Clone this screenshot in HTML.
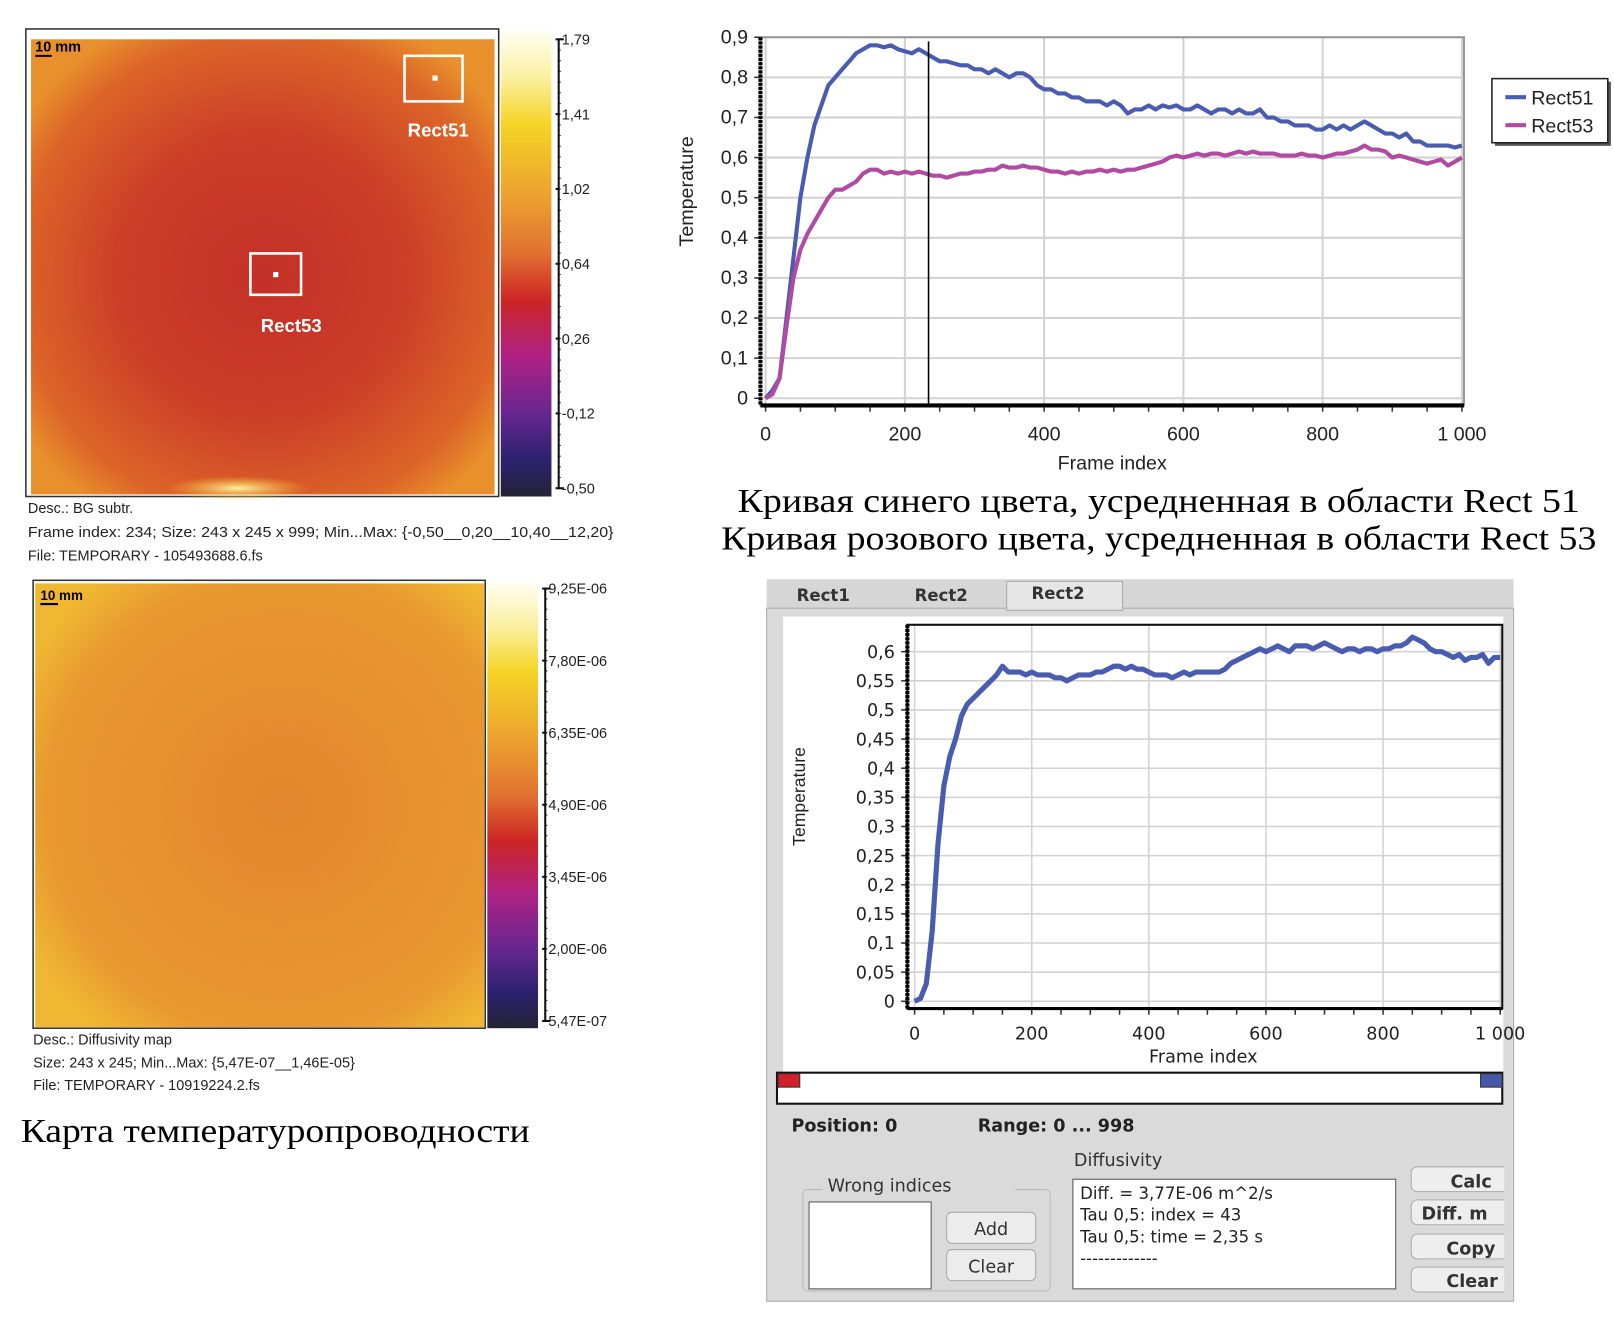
<!DOCTYPE html>
<html><head><meta charset="utf-8">
<style>
html,body{margin:0;padding:0;background:#fff;width:1614px;height:1323px;overflow:hidden}
svg{display:block}
.n{font-family:"Liberation Sans",sans-serif}
.v{font-family:"DejaVu Sans","Liberation Sans",sans-serif}
.s{font-family:"Liberation Serif","Noto Serif CJK SC",serif}
</style></head>
<body>
<svg id="root" width="1614" height="1323" viewBox="0 0 1560 1279" preserveAspectRatio="none" xmlns="http://www.w3.org/2000/svg">
<defs>
<linearGradient id="cbar" x1="0" y1="0" x2="0" y2="1">
<stop offset="0" stop-color="#fffef2"/><stop offset="0.1" stop-color="#fbf0a0"/>
<stop offset="0.2" stop-color="#f5d425"/><stop offset="0.36" stop-color="#eca030"/>
<stop offset="0.48" stop-color="#e07030"/><stop offset="0.58" stop-color="#cc2424"/>
<stop offset="0.7" stop-color="#ae2284"/><stop offset="0.82" stop-color="#682690"/>
<stop offset="0.92" stop-color="#2c2270"/><stop offset="1" stop-color="#232334"/>
</linearGradient>
<radialGradient id="h1" cx="0.5" cy="0.52" r="0.62">
<stop offset="0" stop-color="#c43028"/><stop offset="0.5" stop-color="#cc3e28"/>
<stop offset="0.85" stop-color="#dc6428"/><stop offset="1" stop-color="#e8902c"/>
</radialGradient>
<radialGradient id="h2" cx="0.55" cy="0.5" r="0.65">
<stop offset="0" stop-color="#e3862e"/><stop offset="0.8" stop-color="#e89830"/>
<stop offset="1" stop-color="#f0b832"/>
</radialGradient>
<radialGradient id="blob" cx="0.5" cy="0.5" r="0.5">
<stop offset="0" stop-color="#fff0a0"/><stop offset="1" stop-color="#f5c030" stop-opacity="0"/>
</radialGradient>
<clipPath id="clipTop"><rect x="735" y="30" width="682" height="364"/></clipPath>
<clipPath id="clipBot"><rect x="877" y="604" width="575" height="372"/></clipPath>
</defs>

<!-- Heatmap 1 -->
<g>
<rect x="25" y="28" width="457" height="452" fill="#fff" stroke="#333" stroke-width="1.5"/>
<rect x="30" y="38" width="448" height="440" fill="url(#h1)"/>
<ellipse cx="230" cy="472" rx="70" ry="12" fill="url(#blob)"/>
<line x1="34" y1="54" x2="50" y2="54" stroke="#000" stroke-width="2"/>
<text x="34" y="50" class="n" font-size="14" font-weight="bold">10 mm</text>
<g fill="none" stroke="#fff" stroke-width="2.5">
<rect x="391" y="54" width="56" height="44"/></g>
<rect x="418" y="73" width="5" height="5" fill="#fff"/>
<text x="394" y="132" class="n" font-size="18" font-weight="bold" fill="#fff">Rect51</text>
<g fill="none" stroke="#fff" stroke-width="2.5">
<rect x="242" y="245" width="49" height="40"/></g>
<rect x="264" y="263" width="5" height="5" fill="#fff"/>
<text x="252" y="321" class="n" font-size="18" font-weight="bold" fill="#fff">Rect53</text>
</g>
<rect x="484" y="30" width="49" height="450" fill="url(#cbar)"/>
<g id="cb1"></g>
<g class="n" font-size="14" fill="#222">
<text x="27" y="496">Desc.:  BG subtr.</text>
<text x="27" y="519" textLength="566" lengthAdjust="spacingAndGlyphs">Frame index:  234; Size:  243 x 245 x 999; Min...Max:  {-0,50__0,20__10,40__12,20}</text>
<text x="27" y="542">File: TEMPORARY - 105493688.6.fs</text>
</g>

<!-- Heatmap 2 -->
<g>
<rect x="32" y="561" width="437" height="433" fill="#fff" stroke="#333" stroke-width="1.5"/>
<rect x="34" y="564" width="434" height="429" fill="url(#h2)"/>
<line x1="39" y1="584" x2="56" y2="584" stroke="#000" stroke-width="2"/>
<text x="39" y="580" class="n" font-size="13" font-weight="bold">10 mm</text>
</g>
<rect x="471" y="563" width="49" height="431" fill="url(#cbar)"/>
<g id="cb2"></g>
<g class="n" font-size="14" fill="#222">
<text x="32" y="1010">Desc.:  Diffusivity map</text>
<text x="32" y="1032">Size:  243 x 245; Min...Max:  {5,47E-07__1,46E-05}</text>
<text x="32" y="1054">File: TEMPORARY - 10919224.2.fs</text>
</g>
<text x="20" y="1104" class="s" font-size="33" textLength="492" lengthAdjust="spacingAndGlyphs">Карта температуропроводности</text>

<!-- Top chart -->
<g id="top"></g>
<text x="713" y="495" class="s" font-size="33" textLength="814" lengthAdjust="spacingAndGlyphs">Кривая синего цвета, усредненная в области Rect 51</text>
<text x="697" y="531" class="s" font-size="33" textLength="846" lengthAdjust="spacingAndGlyphs">Кривая розового цвета, усредненная в области Rect 53</text>

<!-- Bottom panel -->
<g>
<rect x="741" y="560" width="722" height="698" fill="#d6d6d6"/>
<rect x="741" y="588" width="722" height="670" fill="#dadada" stroke="#aaa"/>
<rect x="973" y="562" width="112" height="28" fill="#e6e6e6" stroke="#aaa"/>
<text x="770" y="581" class="v" font-size="16" font-weight="bold" fill="#333">Rect1</text>
<text x="884" y="581" class="v" font-size="16" font-weight="bold" fill="#333">Rect2</text>
<text x="997" y="579" class="v" font-size="16" font-weight="bold" fill="#333">Rect2</text>
<rect x="757" y="596" width="696" height="440" fill="#fff"/>
</g>
<g id="bot"></g>
<g>
<rect x="751" y="1037" width="701" height="30" fill="#fff" stroke="#111" stroke-width="2"/>
<rect x="752" y="1038" width="21" height="13" fill="#d0202a" stroke="#333"/>
<rect x="1431" y="1038" width="21" height="13" fill="#4858a8" stroke="#333"/>
</g>
<g class="v" font-size="17" font-weight="bold" fill="#222">
<text x="765" y="1094">Position: 0</text>
<text x="945" y="1094">Range: 0 ... 998</text>
<text x="1038" y="1127" font-size="17" font-weight="normal" fill="#333">Diffusivity</text>
</g>
<g>
<rect x="776" y="1150" width="239" height="98" rx="4" fill="none" stroke="#bbb"/>
<rect x="795" y="1138" width="186" height="18" fill="#dadada"/>
<text x="800" y="1152" class="v" font-size="17" fill="#333">Wrong indices</text>
<rect x="782" y="1162" width="118" height="84" fill="#fff" stroke="#555"/>
<rect x="915" y="1172" width="86" height="30" rx="5" fill="#ececec" stroke="#aaa"/>
<text x="958" y="1194" text-anchor="middle" class="v" font-size="17" fill="#333">Add</text>
<rect x="915" y="1208" width="86" height="30" rx="5" fill="#ececec" stroke="#aaa"/>
<text x="958" y="1230" text-anchor="middle" class="v" font-size="17" fill="#333">Clear</text>
</g>
<g>
<rect x="1037" y="1140" width="312" height="106" fill="#fff" stroke="#555"/>
<g class="v" font-size="16" fill="#222">
<text x="1044" y="1159">Diff. = 3,77E-06 m^2/s</text>
<text x="1044" y="1180">Tau 0,5: index = 43</text>
<text x="1044" y="1201">Tau 0,5: time = 2,35 s</text>
<text x="1044" y="1222">-------------</text>
</g></g>
<svg x="1362" y="1120" width="92" height="140">
<g class="v" font-size="17" font-weight="bold" fill="#333">
<rect x="2" y="8" width="110" height="24" rx="6" fill="#eee" stroke="#aaa"/>
<text x="40" y="28">Calc</text>
<rect x="2" y="40" width="110" height="24" rx="6" fill="#eee" stroke="#aaa"/>
<text x="12" y="59">Diff. m</text>
<rect x="2" y="73" width="110" height="24" rx="6" fill="#eee" stroke="#aaa"/>
<text x="36" y="93">Copy</text>
<rect x="2" y="105" width="110" height="24" rx="6" fill="#eee" stroke="#aaa"/>
<text x="36" y="124">Clear</text>
</g></svg>
</svg>

<script>
// ---- data ----
const frames = [0,10,20,30,40,50,60,70,80,90,100,110,120,130,140,150,160,170,180,190,200,210,220,230,240,250,260,270,280,290,300,310,320,330,340,350,360,370,380,390,400,410,420,430,440,450,460,470,480,490,500,510,520,530,540,550,560,570,580,590,600,610,620,630,640,650,660,670,680,690,700,710,720,730,740,750,760,770,780,790,800,810,820,830,840,850,860,870,880,890,900,910,920,930,940,950,960,970,980,990,1000];
const rect51 = [0,0.02,0.05,0.2,0.35,0.5,0.6,0.68,0.73,0.78,0.8,0.82,0.84,0.86,0.87,0.88,0.88,0.875,0.88,0.87,0.865,0.86,0.87,0.86,0.85,0.84,0.84,0.835,0.83,0.83,0.82,0.82,0.81,0.82,0.81,0.8,0.81,0.81,0.8,0.78,0.77,0.77,0.76,0.76,0.75,0.75,0.74,0.74,0.74,0.73,0.74,0.73,0.71,0.72,0.72,0.73,0.72,0.73,0.725,0.73,0.72,0.72,0.73,0.72,0.71,0.72,0.72,0.71,0.72,0.71,0.71,0.72,0.7,0.7,0.69,0.69,0.68,0.68,0.68,0.67,0.67,0.68,0.67,0.68,0.67,0.68,0.69,0.68,0.67,0.66,0.66,0.65,0.66,0.64,0.64,0.63,0.63,0.63,0.63,0.625,0.63];
const rect53 = [0,0.01,0.05,0.18,0.3,0.37,0.41,0.44,0.47,0.5,0.52,0.52,0.53,0.54,0.56,0.57,0.57,0.56,0.565,0.56,0.565,0.56,0.565,0.56,0.555,0.555,0.55,0.555,0.56,0.56,0.565,0.565,0.57,0.57,0.58,0.575,0.575,0.58,0.575,0.575,0.57,0.565,0.565,0.56,0.565,0.56,0.565,0.565,0.57,0.565,0.57,0.565,0.57,0.57,0.575,0.58,0.585,0.59,0.6,0.605,0.6,0.605,0.61,0.605,0.61,0.61,0.605,0.61,0.615,0.61,0.615,0.61,0.61,0.61,0.605,0.605,0.605,0.61,0.605,0.605,0.6,0.605,0.61,0.61,0.615,0.62,0.63,0.62,0.62,0.615,0.6,0.605,0.6,0.595,0.59,0.585,0.59,0.595,0.58,0.59,0.6];
const rect2 = [0,0.005,0.03,0.12,0.27,0.37,0.42,0.45,0.49,0.51,0.52,0.53,0.54,0.55,0.56,0.575,0.565,0.565,0.565,0.56,0.565,0.56,0.56,0.56,0.555,0.555,0.55,0.555,0.56,0.56,0.56,0.565,0.565,0.57,0.575,0.575,0.57,0.575,0.57,0.57,0.565,0.56,0.56,0.56,0.555,0.56,0.565,0.56,0.565,0.565,0.565,0.565,0.565,0.57,0.58,0.585,0.59,0.595,0.6,0.605,0.6,0.605,0.61,0.605,0.6,0.61,0.61,0.61,0.605,0.61,0.615,0.61,0.605,0.6,0.605,0.605,0.6,0.605,0.605,0.6,0.605,0.605,0.61,0.61,0.615,0.625,0.62,0.615,0.605,0.6,0.6,0.595,0.59,0.595,0.585,0.59,0.59,0.595,0.58,0.59,0.59];
const topYTicks = ["0","0,1","0,2","0,3","0,4","0,5","0,6","0,7","0,8","0,9"];
const topXTicks = ["0","200","400","600","800","1 000"];
const botYTicks = ["0","0,05","0,1","0,15","0,2","0,25","0,3","0,35","0,4","0,45","0,5","0,55","0,6"];
const botXTicks = ["0","200","400","600","800","1 000"];
const cb1Labels = ["1,79","1,41","1,02","0,64","0,26","-0,12","-0,50"];
const cb2Labels = ["9,25E-06","7,80E-06","6,35E-06","4,90E-06","3,45E-06","2,00E-06","5,47E-07"];
const cursorFrame = 234;

const NS="http://www.w3.org/2000/svg";
function mk(parent,tag,attrs,txt){const e=document.createElementNS(NS,tag);for(const k in attrs)e.setAttribute(k,attrs[k]);if(txt!==undefined)e.textContent=txt;parent.appendChild(e);return e;}

function colorbar(id,x,y0,y1,labels){
  const g=document.getElementById(id);
  mk(g,'line',{x1:x,y1:y0,x2:x,y2:y1,stroke:'#111','stroke-width':2});
  mk(g,'line',{x1:x,y1:y0,x2:x+5,y2:y0,stroke:'#111','stroke-width':2});
  mk(g,'line',{x1:x,y1:y1,x2:x+5,y2:y1,stroke:'#111','stroke-width':2});
  for(let i=0;i<=labels.length*6;i++){const yy=y0+(y1-y0)*i/(labels.length*6);mk(g,'line',{x1:x,y1:yy,x2:x+2,y2:yy,stroke:'#111'});}
  labels.forEach((l,i)=>{const yy=y0+(y1-y0)*i/(labels.length-1);
    mk(g,'line',{x1:x-3,y1:yy,x2:x+1,y2:yy,stroke:'#111','stroke-width':2});
    const t=mk(g,'text',{x:x+3,y:yy+5,'font-size':14,class:'n',fill:'#222'},l);
    
    
  });
}
colorbar('cb1',540,38,472,cb1Labels);
colorbar('cb2',527,569,987,cb2Labels);

function chart(gid,o){
  const g=document.getElementById(gid);
  const xs=v=>o.x0+(o.x1-o.x0)*v/1000;
  const ys=v=>o.y0-(o.y0-o.y1)*v/o.ymax;
  mk(g,'rect',{x:o.fx0,y:o.fy0,width:o.fx1-o.fx0,height:o.fy1-o.fy0,fill:'#fff'});
  o.yt.forEach((l,i)=>{const v=i*o.ystep,yy=ys(v);
    const gl=mk(g,'line',{x1:o.fx0,y1:yy,x2:o.fx1,y2:yy,stroke:'#d2d2d2','stroke-width':o.gw});
    
    
    mk(g,'line',{x1:o.fx0-6,y1:yy,x2:o.fx0,y2:yy,stroke:'#333','stroke-width':1.5});
    const t=mk(g,'text',{x:o.fx0-o.lgap,y:yy+6,'text-anchor':'end','font-size':o.fs,class:o.fc,fill:'#222'},l);
    
    
  });
  o.xt.forEach((l,i)=>{const xx=xs(i*200);
    const gl=mk(g,'line',{x1:xx,y1:o.fy0,x2:xx,y2:o.fy1,stroke:'#d2d2d2','stroke-width':o.gw});
    
    
    const t=mk(g,'text',{x:xx,y:o.fy1+o.xgap,'text-anchor':'middle','font-size':o.fs,class:o.fc,fill:'#222'},l);
    
    
  });
  for(let f=0;f<=1000;f+=50){const xx=xs(f);mk(g,'line',{x1:xx,y1:o.fy1,x2:xx,y2:o.fy1+6,stroke:'#333','stroke-width':1.5});}
  mk(g,'rect',{x:o.fx0,y:o.fy0,width:o.fx1-o.fx0,height:o.fy1-o.fy0,fill:'none',stroke:o.frame,'stroke-width':2});
  mk(g,'line',{x1:o.fx0,y1:o.fy0,x2:o.fx0,y2:o.fy1,stroke:'#000','stroke-width':4,'stroke-dasharray':'3 1'});
  mk(g,'line',{x1:o.fx0,y1:o.fy1,x2:o.fx1,y2:o.fy1,stroke:'#000','stroke-width':o.bw});
  const lg=mk(g,'text',{x:o.xlx,y:o.xly,'text-anchor':'middle','font-size':o.fs,class:o.fc,fill:'#222'},'Frame index');
  
  
  const yl=mk(g,'text',{x:0,y:0,transform:`translate(${o.ylx},${o.yly}) rotate(-90)`,'text-anchor':'middle','font-size':o.fs,class:'n',fill:'#222'},'Temperature');
  
  
  const pg=mk(g,'g',{'clip-path':o.clip});
  o.series.forEach(s=>{
    const pts=frames.map((f,i)=>xs(f).toFixed(1)+','+ys(s.data[i]).toFixed(1)).join(' ');
    const p=mk(pg,'polyline',{points:pts,fill:'none',stroke:s.color,'stroke-width':s.w,'stroke-linejoin':'round'});
    
    
  });
  return {xs,ys,g};
}

const t=chart('top',{x0:740,x1:1413,y0:385,y1:36,ymax:0.9,ystep:0.1,fx0:735,fx1:1415,fy0:36,fy1:392,yt:topYTicks,xt:topXTicks,
  fs:19,fc:'n',lgap:12,xgap:34,gw:2,frame:'#999',bw:4,xlx:1075,xly:454,ylx:670,yly:185,clip:'url(#clipTop)',
  series:[{data:rect51,color:'#4a5cb0',w:4,name:'rect51-line'},{data:rect53,color:'#b04aa2',w:4,name:'rect53-line'}]});
const cur=mk(t.g,'line',{x1:t.xs(cursorFrame),y1:40,x2:t.xs(cursorFrame),y2:392,stroke:'#000','stroke-width':1.5});


const lgG=mk(t.g,'g',{});


mk(lgG,'rect',{x:1445,y:79,width:112,height:62,fill:'#555'});
mk(lgG,'rect',{x:1442,y:76,width:112,height:62,fill:'#fff',stroke:'#222','stroke-width':1.5});
[['Rect51','#4a5cb0',101],['Rect53','#b04aa2',128]].forEach(([n,c,y])=>{
  const e=mk(lgG,'g',{});
  
  
  mk(e,'line',{x1:1455,y1:y-7,x2:1475,y2:y-7,stroke:c,'stroke-width':4});
  mk(e,'text',{x:1480,y:y,'font-size':19,class:'n',fill:'#222'},n);
});

chart('bot',{x0:884,x1:1450,y0:968,y1:630,ymax:0.6,ystep:0.05,fx0:877,fx1:1452,fy0:604,fy1:975,yt:botYTicks,xt:botXTicks,
  fs:17,fc:'v',lgap:12,xgap:30,gw:1.5,frame:'#111',bw:3,xlx:1163,xly:1027,ylx:778,yly:770,clip:'url(#clipBot)',
  series:[{data:rect2,color:'#4a5cb0',w:5,name:'rect2-line'}]});
</script>
</body></html>
